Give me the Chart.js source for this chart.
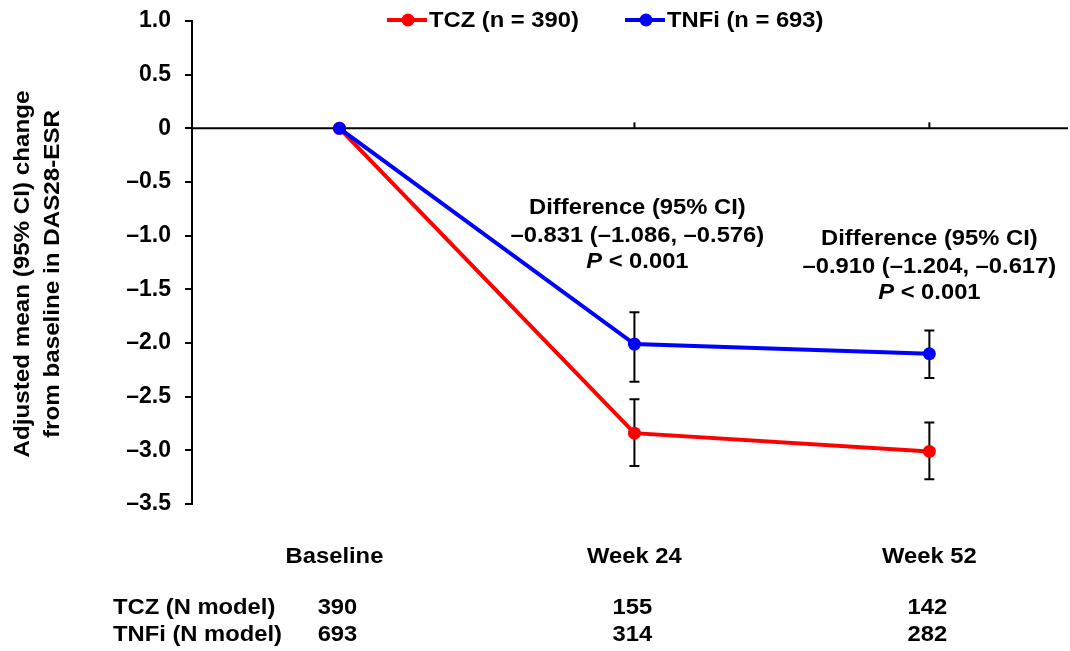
<!DOCTYPE html>
<html>
<head>
<meta charset="utf-8">
<script src="https://cdn.jsdelivr.net/npm/chart.js@4"></script>
<style>
  html, body { margin: 0; padding: 0; background: #fff; }
  canvas { display: block; }
</style>
</head>
<body>
<canvas id="c" width="1070" height="651"></canvas>
<script>
// ---- data ----
const categories = ['Baseline', 'Week 24', 'Week 52'];
const xPositions = [0, 1, 2];
const tczLabel = 'TCZ (n = 390)';
const tnfiLabel = 'TNFi (n = 693)';
const tczMean = [0, -2.84, -3.01];
const tczLower = [null, -3.145, -3.27];
const tczUpper = [null, -2.525, -2.74];
const tnfiMean = [0, -2.01, -2.10];
const tnfiLower = [null, -2.36, -2.325];
const tnfiUpper = [null, -1.714, -1.883];
const tableRowLabels = ['TCZ (N model)', 'TNFi (N model)'];
const tczN = [390, 155, 142];
const tnfiN = [693, 314, 282];
const yTickMin = -3.5;
const yTickMax = 1.0;
const yTickStep = 0.5;
const yTitleLines = ['Adjusted mean (95% CI) change', 'from baseline in DAS28-ESR'];
const annot1Lines = ['Difference (95% CI)', '\u20130.831 (\u20131.086, \u20130.576)'];
const annot2Lines = ['Difference (95% CI)', '\u20130.910 (\u20131.204, \u20130.617)'];
const pLine = ['P', ' < 0.001'];

const FONT = '"Liberation Sans", Arial, sans-serif';
const FS = 22;
const SX = 1.08;

function fmtTick(v) {
  if (Math.abs(v) < 1e-9) return '0';
  const s = Math.abs(v).toFixed(1);
  return v < 0 ? '\u2013' + s : s;
}

function pts(ys) { return ys.map((y, i) => ({ x: xPositions[i], y: y })); }

// draw text horizontally stretched by SX
function textS(ctx, t, x, y, align) {
  const w = ctx.measureText(t).width * SX;
  let left = x;
  if (align === 'center') left = x - w / 2;
  else if (align === 'right') left = x - w;
  ctx.save();
  ctx.translate(left, y);
  ctx.scale(SX, 1);
  ctx.textAlign = 'left';
  ctx.fillText(t, 0, 0);
  ctx.restore();
  return w;
}

const overlay = {
  id: 'overlay',
  beforeDatasetsDraw(chart) {
    const ctx = chart.ctx;
    const xs = chart.scales.x, ys = chart.scales.y;
    const ca = chart.chartArea;
    ctx.save();
    const y0 = ys.getPixelForValue(0);
    ctx.strokeStyle = '#000';
    ctx.lineWidth = 2;
    ctx.beginPath();
    ctx.moveTo(ca.left, y0);
    ctx.lineTo(ca.right, y0);
    ctx.stroke();
    xPositions.forEach(v => {
      const px = xs.getPixelForValue(v);
      ctx.beginPath();
      ctx.moveTo(px, y0);
      ctx.lineTo(px, y0 - 6);
      ctx.stroke();
    });
    const bars = [[tczLower, tczUpper], [tnfiLower, tnfiUpper]];
    bars.forEach(([lo, hi]) => {
      lo.forEach((l, i) => {
        if (l == null) return;
        const px = xs.getPixelForValue(xPositions[i]);
        const pl = ys.getPixelForValue(l), ph = ys.getPixelForValue(hi[i]);
        ctx.beginPath();
        ctx.moveTo(px, pl); ctx.lineTo(px, ph);
        ctx.moveTo(px - 5, pl); ctx.lineTo(px + 5, pl);
        ctx.moveTo(px - 5, ph); ctx.lineTo(px + 5, ph);
        ctx.stroke();
      });
    });
    ctx.restore();
  },
  afterDraw(chart) {
    const ctx = chart.ctx;
    const xs = chart.scales.x, ys = chart.scales.y;
    ctx.save();
    ctx.fillStyle = '#000';
    ctx.textBaseline = 'middle';
    const bold = 'bold ' + FS + 'px ' + FONT;
    const boldIt = 'italic bold ' + FS + 'px ' + FONT;

    // legend
    const legendItems = [
      { ds: chart.data.datasets[0], x: 387 },
      { ds: chart.data.datasets[1], x: 625 }
    ];
    legendItems.forEach(it => {
      const ly = 20;
      ctx.strokeStyle = it.ds.borderColor;
      ctx.lineWidth = 4;
      ctx.beginPath();
      ctx.moveTo(it.x, ly); ctx.lineTo(it.x + 40, ly);
      ctx.stroke();
      ctx.fillStyle = it.ds.borderColor;
      ctx.beginPath();
      ctx.arc(it.x + 21, ly, 6.5, 0, Math.PI * 2);
      ctx.fill();
      ctx.fillStyle = '#000';
      ctx.font = bold;
      textS(ctx, it.ds.label, it.x + 42, ly + 1, 'left');
    });

    // y title
    ctx.font = bold;
    const cy = 274;
    [23, 53].forEach((cx, i) => {
      ctx.save();
      ctx.translate(cx, cy);
      ctx.rotate(-Math.PI / 2);
      const w = ctx.measureText(yTitleLines[i]).width * 1.1;
      ctx.translate(-w / 2, 0);
      ctx.scale(1.1, 1);
      ctx.textAlign = 'left';
      ctx.fillText(yTitleLines[i], 0, 0);
      ctx.restore();
    });

    // annotations
    function drawP(cx, y) {
      ctx.font = boldIt;
      const w1 = ctx.measureText(pLine[0]).width * SX;
      ctx.font = bold;
      const w2 = ctx.measureText(pLine[1]).width * SX;
      const start = cx - (w1 + w2) / 2;
      ctx.font = boldIt;
      textS(ctx, pLine[0], start, y, 'left');
      ctx.font = bold;
      textS(ctx, pLine[1], start + w1, y, 'left');
    }
    function drawAnnot(lines, xv, yTop) {
      const cx = xs.getPixelForValue(xv);
      ctx.font = bold;
      textS(ctx, lines[0], cx, yTop, 'center');
      textS(ctx, lines[1], cx, yTop + 28, 'center');
      drawP(cx, yTop + 54);
    }
    drawAnnot(annot1Lines, 1.01, 208);
    drawAnnot(annot2Lines, 2, 239);

    // category labels
    ctx.font = bold;
    categories.forEach((c, i) => {
      textS(ctx, c, xs.getPixelForValue(xPositions[i]) - (i === 0 ? 5 : 0), 557, 'center');
    });

    // table
    textS(ctx, tableRowLabels[0], 113, 608, 'left');
    textS(ctx, tableRowLabels[1], 113, 635, 'left');
    [tczN, tnfiN].forEach((row, r) => {
      row.forEach((n, i) => {
        textS(ctx, String(n), xs.getPixelForValue(xPositions[i]) - 2, r === 0 ? 608 : 635, 'center');
      });
    });
    ctx.restore();
  }
};

new Chart(document.getElementById('c'), {
  type: 'line',
  data: {
    datasets: [
      {
        label: tczLabel,
        data: pts(tczMean),
        borderColor: '#ff0000',
        backgroundColor: '#ff0000',
        borderWidth: 4,
        pointRadius: 6.5,
        pointBorderWidth: 0,
        pointBackgroundColor: '#ff0000',
        order: 2
      },
      {
        label: tnfiLabel,
        data: pts(tnfiMean),
        borderColor: '#0000ff',
        backgroundColor: '#0000ff',
        borderWidth: 4,
        pointRadius: 6.5,
        pointBorderWidth: 0,
        pointBackgroundColor: '#0000ff',
        order: 1
      }
    ]
  },
  options: {
    responsive: false,
    animation: false,
    devicePixelRatio: 1,
    layout: { autoPadding: false, padding: { top: 21, bottom: 147, right: 2, left: 0 } },
    plugins: { legend: { display: false }, tooltip: { enabled: false } },
    scales: {
      x: {
        type: 'linear',
        min: -0.5,
        max: 2.47,
        display: false
      },
      y: {
        type: 'linear',
        min: yTickMin,
        max: yTickMax,
        afterBuildTicks(scale) {
          const t = [];
          for (let v = yTickMin; v <= yTickMax + 1e-9; v += yTickStep) t.push({ value: Math.round(v * 10) / 10 });
          scale.ticks = t;
        },
        afterFit(scale) { scale.width = 192; scale.paddingTop = 0; scale.paddingBottom = 0; },
        border: { display: true, color: '#000', width: 2 },
        grid: { drawOnChartArea: false, drawTicks: true, tickLength: 7, color: '#000', lineWidth: 2 },
        ticks: {
          color: '#000',
          padding: 14,
          font: { family: FONT, size: 23, weight: 'bold' },
          callback: (v) => fmtTick(v)
        }
      }
    }
  },
  plugins: [overlay]
});
</script>
</body>
</html>
